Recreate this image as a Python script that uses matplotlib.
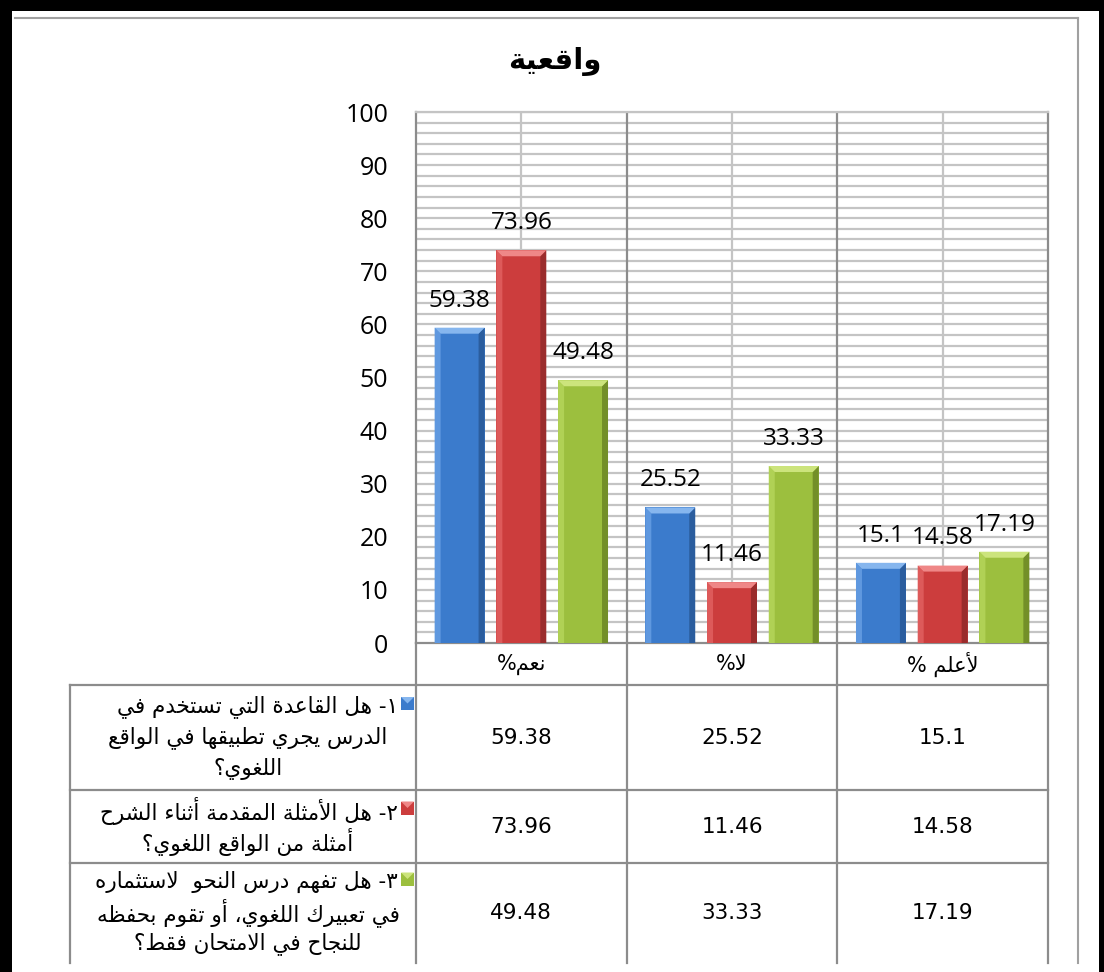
import numpy as np
import matplotlib
matplotlib.use('Agg')
import matplotlib.pyplot as plt
from matplotlib.patches import Polygon, Rectangle

# ---- data ----
title = 'واقعية'
categories = ['نعم%', 'لا%', 'لأعلم %']
q1 = [59.38, 25.52, 15.1]
q2 = [73.96, 11.46, 14.58]
q3 = [49.48, 33.33, 17.19]
series = [q1, q2, q3]
series_names = [
    ['١- هل القاعدة التي تستخدم في', 'الدرس يجري تطبيقها في الواقع', 'اللغوي؟'],
    ['٢- هل الأمثلة المقدمة أثناء الشرح', 'أمثلة من الواقع اللغوي؟'],
    ['٣- هل تفهم درس النحو  لاستثماره', 'في تعبيرك اللغوي، أو تقوم بحفظه', 'للنجاح في الامتحان فقط؟'],
]
yticks = list(range(0, 101, 10))

# colours: main, light side, top bevel, dark side
cols = [('#3b7bcc', '#5f98df', '#86b6ee', '#2b5d9e'),
        ('#cc3d3d', '#dd5a5a', '#ef8787', '#9a2c2c'),
        ('#9cbf3e', '#b0d155', '#cce47c', '#738f28')]


# ---- minimal arabic shaping (presentation forms + reversed order) ----
_FORMS = {0x0621: (0xFE80, 1), 0x0622: (0xFE81, 2), 0x0623: (0xFE83, 2), 0x0624: (0xFE85, 2),
          0x0625: (0xFE87, 2), 0x0626: (0xFE89, 4), 0x0627: (0xFE8D, 2), 0x0628: (0xFE8F, 4),
          0x0629: (0xFE93, 2), 0x062A: (0xFE95, 4), 0x062B: (0xFE99, 4), 0x062C: (0xFE9D, 4),
          0x062D: (0xFEA1, 4), 0x062E: (0xFEA5, 4), 0x062F: (0xFEA9, 2), 0x0630: (0xFEAB, 2),
          0x0631: (0xFEAD, 2), 0x0632: (0xFEAF, 2), 0x0633: (0xFEB1, 4), 0x0634: (0xFEB5, 4),
          0x0635: (0xFEB9, 4), 0x0636: (0xFEBD, 4), 0x0637: (0xFEC1, 4), 0x0638: (0xFEC5, 4),
          0x0639: (0xFEC9, 4), 0x063A: (0xFECD, 4), 0x0641: (0xFED1, 4), 0x0642: (0xFED5, 4),
          0x0643: (0xFED9, 4), 0x0644: (0xFEDD, 4), 0x0645: (0xFEE1, 4), 0x0646: (0xFEE5, 4),
          0x0647: (0xFEE9, 4), 0x0648: (0xFEED, 2), 0x0649: (0xFEEF, 2), 0x064A: (0xFEF1, 4)}
_LAM_ALEF = {0x0622: (0xFEF5, 0xFEF6), 0x0623: (0xFEF7, 0xFEF8),
             0x0625: (0xFEF9, 0xFEFA), 0x0627: (0xFEFB, 0xFEFC)}


def _nf(c):
    return _FORMS.get(ord(c), (0, 0))[1]


def ar(text):
    n = len(text)
    out = []
    i = 0
    while i < n:
        c = text[i]
        p = i > 0 and _nf(text[i - 1]) == 4 and _nf(c) >= 2
        if ord(c) == 0x0644 and i + 1 < n and ord(text[i + 1]) in _LAM_ALEF:
            iso, fin = _LAM_ALEF[ord(text[i + 1])]
            out.append(chr(fin if p else iso))
            i += 2
            continue
        if ord(c) not in _FORMS:
            out.append(c)
            i += 1
            continue
        base, k = _FORMS[ord(c)]
        nx = i + 1 < n and k == 4 and _nf(text[i + 1]) >= 2
        if p and nx:
            g = base + 3
        elif p:
            g = base + 1
        elif nx:
            g = base + 2
        else:
            g = base
        out.append(chr(g))
        i += 1
    return ''.join(reversed(out))


# ---- layout in pixels ----
W, H = 1104, 972
PL, PR, PT, PB = 416, 1048, 112, 643
TL = 70
rows = [685, 790, 863, 963]
grid_c = '#8c8c8c'
light_c = '#c4c4c4'
num_font = 'Open Sans'
ar_font = 'DejaVu Sans'

fig = plt.figure(figsize=(W / 100, H / 100), dpi=100)
fig.patch.set_facecolor('white')

ov = fig.add_axes([0, 0, 1, 1], zorder=0)
ov.set_xlim(0, W)
ov.set_ylim(H, 0)
ov.axis('off')

ax = fig.add_axes([PL / W, 1 - PB / H, (PR - PL) / W, (PB - PT) / H], zorder=1)
ax.set_xlim(0, 3)
ax.set_ylim(0, 100)

# gridlines
for v in np.arange(2, 101, 2):
    ax.axhline(v, color=light_c, lw=1.6, zorder=0)
for xv in [0.5, 1.5, 2.5]:
    ax.axvline(xv, color=light_c, lw=1.6, zorder=0)
for xv in [1, 2]:
    ax.axvline(xv, color=grid_c, lw=1.6, zorder=0)
for s in ['left', 'right', 'bottom']:
    ax.spines[s].set_color(grid_c)
    ax.spines[s].set_linewidth(1.6)
ax.spines['top'].set_color(light_c)
ax.spines['top'].set_linewidth(1.6)

ax.set_yticks(yticks)
ax.set_yticklabels([str(t) for t in yticks], fontsize=18, family=num_font)
ax.tick_params(axis='y', length=0, pad=20)
ax.set_xticks([])

# bars with bevel
bw = 0.237
pitch = 0.293
bx = 6 / ((PR - PL) / 3)
by = 6 / ((PB - PT) / 100)
xs = np.arange(len(categories)) + 0.5
for j, vals in enumerate(series):
    main, light, top, dark = cols[j]
    bars = ax.bar(xs + (j - 1) * pitch, vals, width=bw, color=main, zorder=3)
    for b, v in zip(bars, vals):
        x0, x1, h = b.get_x(), b.get_x() + b.get_width(), b.get_height()
        ax.add_patch(Polygon([(x0, 0), (x0, h), (x0 + bx, h - by), (x0 + bx, 0)],
                             closed=True, color=light, lw=0, zorder=4))
        ax.add_patch(Polygon([(x1, 0), (x1, h), (x1 - bx, h - by), (x1 - bx, 0)],
                             closed=True, color=dark, lw=0, zorder=4))
        ax.add_patch(Polygon([(x0, h), (x1, h), (x1 - bx, h - by), (x0 + bx, h - by)],
                             closed=True, color=top, lw=0, zorder=4))
        ax.annotate(str(v), (b.get_x() + bw / 2, h), xytext=(0, 19.5),
                    textcoords='offset points', ha='center', va='center',
                    fontsize=17.5, family=num_font, zorder=5)

# ---- outer frame ----
ov.add_patch(Rectangle((0, 0), W, 11, color='black', lw=0))
ov.add_patch(Rectangle((0, 0), 12, H, color='black', lw=0))
ov.add_patch(Rectangle((1099, 0), 5, H, color='black', lw=0))
ov.plot([15, 1078], [18, 18], color='#a0a0a0', lw=1.5)
ov.plot([1078, 1078], [18, 963], color='#a0a0a0', lw=1.5)

ov.text(555, 61, ar(title), ha='center', va='center', fontsize=21,
        fontweight='bold', family=ar_font)

# ---- data table ----
col_edges = PL + (PR - PL) * np.arange(len(categories) + 1) / len(categories)
col_mid = (col_edges[:-1] + col_edges[1:]) / 2
for xe in col_edges:
    ov.plot([xe, xe], [PB, rows[-1]], color=grid_c, lw=1.6)
ov.plot([TL, TL], [rows[0], rows[-1]], color=grid_c, lw=1.6)
for ye in rows[:-1]:
    ov.plot([TL, PR], [ye, ye], color=grid_c, lw=1.6)

for cx, cat in zip(col_mid, categories):
    ov.text(cx, (PB + rows[0]) / 2, ar(cat), ha='center', va='center',
            fontsize=15, family=ar_font)

line_h = 31
for j, (vals, lines) in enumerate(zip(series, series_names)):
    yc = (rows[j] + rows[j + 1]) / 2
    for cx, v in zip(col_mid, vals):
        ov.text(cx, yc, str(v), ha='center', va='center', fontsize=15.5, family='DejaVu Sans')
    y0 = yc - line_h * (len(lines) - 1) / 2
    for k, ln in enumerate(lines):
        if k == 0:
            ov.text(398, y0, ar(ln), ha='right', va='center', fontsize=15.5, family=ar_font)
        else:
            ov.text(248, y0 + k * line_h, ar(ln), ha='center', va='center',
                    fontsize=15.5, family=ar_font)
    # legend key
    main, light, top, dark = cols[j]
    ky = y0 - 3
    ov.add_patch(Rectangle((401, ky - 6.5), 13, 13, color=main, lw=0))
    ov.add_patch(Polygon([(401, ky - 6.5), (414, ky - 6.5), (407.5, ky)], closed=True,
                         color=top, lw=0))

fig.savefig('out.png', dpi=100, facecolor='white')
